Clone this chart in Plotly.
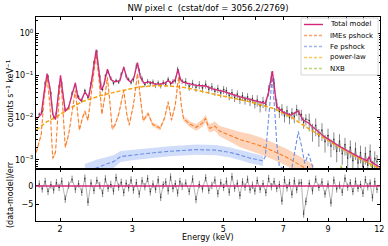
import numpy as np
import plotly.graph_objects as go
from plotly.subplots import make_subplots

# ---------------- data ----------------
tot_E = [1.75,1.80,1.83,1.86,1.89,1.92,1.95,1.98,2.006,2.03,2.06,2.10,2.14,2.18,2.21,2.25,2.30,2.35,2.40,2.45,
         2.49,2.52,2.56,2.61,2.66,2.72,2.80,2.86,2.92,2.97,3.03,3.09,3.14,3.20,3.30,3.40,3.50,3.60,3.67,3.74,
         3.82,3.88,3.93,4.00,4.30,4.53,4.70,5.00,5.50,5.81,6.10,6.33,6.45,6.59,6.68,6.75,7.00,7.30,7.62,7.80,
         8.07,8.30,8.80,9.60,10.50,11.20,11.35,11.45,11.60,12.05]
tot_V = [0.009,0.012,0.04,0.11,0.05,0.012,0.009,0.03,0.10,0.04,0.014,0.018,0.035,0.066,0.03,0.025,0.04,0.03,0.10,0.40,
         0.12,0.045,0.06,0.14,0.08,0.07,0.075,0.157,0.08,0.07,0.09,0.20,0.09,0.066,0.07,0.063,0.062,0.065,0.075,0.065,
         0.08,0.138,0.08,0.068,0.058,0.056,0.048,0.042,0.031,0.027,0.023,0.0216,0.04,0.126,0.04,0.018,0.0135,0.0115,0.0145,0.009,
         0.0075,0.0058,0.0036,0.0021,0.0013,0.00095,0.0012,0.0009,0.00084,0.00066]

ime_E = [1.75,1.80,1.83,1.86,1.89,1.92,1.95,1.98,2.006,2.03,2.06,2.10,2.14,2.18,2.21,2.23,2.27,2.30,2.34,2.40,
         2.45,2.49,2.53,2.57,2.61,2.65,2.68,2.72,2.78,2.86,2.91,2.95,3.02,3.09,3.14,3.19,3.28,3.36,3.51,3.60,
         3.67,3.74,3.82,3.89,3.95,4.00,4.15,4.30,4.45,4.53,4.60,4.64,4.77,4.90,5.20,5.50,5.81,6.20,6.63,7.20,
         7.90,8.30]
ime_V = [0.0015,0.004,0.03,0.091,0.02,0.0011,0.0015,0.02,0.091,0.02,0.002,0.004,0.015,0.044,0.012,0.0051,0.01,0.014,0.0087,0.06,
         0.32,0.08,0.012,0.03,0.09,0.02,0.0055,0.0065,0.012,0.044,0.012,0.0067,0.02,0.11,0.025,0.0085,0.0125,0.007,0.0056,0.01,
         0.0236,0.0087,0.02,0.091,0.02,0.0095,0.007,0.0059,0.0075,0.0096,0.006,0.0056,0.0063,0.0048,0.0038,0.003,0.0026,0.0021,0.0016,0.0011,
         0.00065,0.00048]
ime_err_dex = [0.05]*45 + [0.06,0.07,0.08,0.09,0.09,0.10,0.10,0.11,0.12,0.15,0.18,0.20,0.20,0.20,0.20,0.20,0.20]

fe_E = [2.30,2.45,2.55,2.70,2.81,3.00,3.30,3.70,4.30,4.80,5.20,5.50,5.81,6.10,6.25,6.33,6.42,6.50,6.58,6.66,
        6.75,6.85,7.10,7.35,7.50,7.62,7.75,7.90,8.07,8.20,8.40]
fe_V = [0.00045,0.00064,0.00075,0.00091,0.0012,0.0013,0.00144,0.0016,0.00175,0.0017,0.0015,0.0013,0.0011,0.001,0.00095,0.0012,0.006,0.03,0.091,0.02,
        0.0025,0.0007,0.0006,0.00065,0.0022,0.0047,0.0022,0.00083,0.0014,0.0008,0.0004]
fe_err_dex = [0.25,0.2,0.17,0.15,0.13,0.12,0.12,0.12,0.12,0.12,0.12,0.12,0.12,0.12,0.12]

pl_E = [1.75,1.85,1.96,2.11,2.27,2.53,2.84,3.13,3.4,3.6,3.85,4.1,4.68,5.5,5.81,6.63,7.3,8.0,8.8,9.6,10.5,11.6,12.2]
pl_V = [0.0051,0.0078,0.0105,0.0165,0.024,0.034,0.044,0.053,0.057,0.057,0.054,0.050,0.037,0.027,0.0236,0.0165,0.0105,0.0058,0.0034,0.0020,0.0012,0.00076,0.00058]

nxb_E = [1.75,3.0,5.0,7.0,7.47,7.6,8.0,9.0,9.6,9.7,9.8,10.5,11.3,11.45,11.6,12.05]
nxb_V = [4e-4,3.5e-4,3.5e-4,4e-4,5.5e-4,4e-4,4.2e-4,4.5e-4,5e-4,7.5e-4,5e-4,5e-4,5.5e-4,7.5e-4,5.5e-4,5.5e-4]

data_E = [1.78,1.81,1.84,1.87,1.90,1.93,1.96,1.99,
          2.02,2.06,2.10,2.14,2.18,2.22,2.26,2.30,2.34,2.38,2.42,2.46,2.50,2.54,2.58,2.62,2.66,2.70,2.74,2.78,2.82,2.86,2.90,2.94,2.98,
          3.02,3.07,3.12,3.17,3.22,3.27,3.32,3.37,3.42,3.47,3.52,3.57,3.62,3.67,3.72,3.77,3.82,3.87,3.92,3.97,
          4.05,4.13,4.21,4.29,4.37,4.45,4.53,4.61,4.69,4.77,4.85,4.93,5.01,5.09,5.17,5.25,5.33,5.41,5.49,5.57,5.65,5.73,5.81,5.89,5.97,
          6.05,6.15,6.25,6.35,6.45,6.55,6.65,6.75,6.85,6.95,7.05,7.15,7.25,7.35,7.45,7.55,7.65,7.75,7.85,7.95,
          8.10,8.25,8.40,8.55,8.70,8.85,9.00,9.15,9.30,9.45,9.60,9.75,9.90,10.05,10.20,10.35,10.50,10.65,10.80,10.95,11.10,11.25,11.40,11.55,11.70,11.85]
data_V = [0.012,0.014,0.066,0.095,0.038,0.010,0.013,0.055,
          0.066,0.015,0.017,0.038,0.061,0.031,0.025,0.044,0.030,0.064,0.205,0.37,0.095,0.046,0.098,0.12,0.086,0.065,0.076,0.069,0.108,0.148,0.094,0.081,0.067,
          0.079,0.17,0.13,0.082,0.061,0.072,0.064,0.07,0.058,0.067,0.057,0.068,0.062,0.081,0.063,0.072,0.074,0.14,0.083,0.073,
          0.071,0.055,0.064,0.052,0.060,0.050,0.062,0.047,0.054,0.042,0.049,0.038,0.046,0.043,0.033,0.039,0.030,0.036,0.027,0.033,0.026,0.031,0.024,0.028,0.021,
          0.026,0.019,0.024,0.020,0.045,0.095,0.065,0.021,0.014,0.016,0.011,0.0145,0.010,0.013,0.0105,0.0155,0.012,0.0118,0.0078,0.0093,
          0.0086,0.0049,0.0066,0.0037,0.0051,0.0027,0.0038,0.0021,0.0031,0.0016,0.0028,0.0014,0.0023,0.0011,0.0020,0.00095,0.0018,0.00085,0.0015,0.0007,0.0014,0.00075,0.0016,0.00065,0.0011,0.0009]
data_rel_err = [0.10]*8 + [0.10]*25 + [0.14]*20 + [0.22]*25 + [0.30]*20 + [0.45]*26
resid = [0.5,-0.8,1.2,-1.5,0.3,-1.1,0.9,-0.4,
         1.3,-3.6,0.2,1.8,-0.9,0.6,-1.7,2.1,-4.4,0.8,-1.2,1.5,0.1,-2.0,1.9,-0.6,0.4,-1.4,2.3,-0.3,1.0,-1.8,0.7,-0.5,1.6,
         -1.1,0.9,-2.2,1.4,-0.2,2.0,-1.6,0.5,-0.9,1.7,-3.1,0.3,1.1,-1.3,2.4,-0.7,0.6,-1.9,1.2,-0.1,
         0.8,-1.5,1.9,-3.7,0.4,-0.8,2.2,-1.2,0.1,1.6,-2.1,0.9,-0.4,1.3,-1.7,2.5,-0.6,0.7,-2.6,1.1,-0.3,1.8,-1.0,0.2,-1.4,
         1.5,-0.9,0.6,-1.8,2.0,-0.2,1.2,-0.7,0.4,-4.1,1.7,-0.5,0.9,-2.3,1.4,-1.0,0.8,0.9,-7.6,-4.2,
         0.7,-1.3,1.8,-0.4,1.1,-2.2,0.5,-4.6,1.6,-0.8,0.2,-1.7,2.1,-0.3,0.9,-1.5,1.3,-0.6,0.4,-2.0,1.7,-0.2,0.8,-3.2,1.2,-0.9]
resid_err = [1.0]*len(resid)

x_range = [1.748, 12.05]
x_major = [2, 3, 5, 7, 9, 12]
x_minor = [4, 6, 8, 10, 11]
y_ticks = [1e-3, 1e-2, 1e-1, 1]
y_tick_text = ["10<sup>−3</sup>", "10<sup>−2</sup>", "10<sup>−1</sup>", "10<sup>0</sup>"]

legend_names = ["Total model", "IMEs pshock", "Fe pshock", "power-law", "NXB"]

# ---------------- colours ----------------
C_TOT = "#d6287a"
C_IME = "#fb7d27"
C_FE = "#6b8fe6"
C_PL = "#f5a40a"
C_NXB = "#a6c83a"
legend_colors = [C_TOT, "#fca36a", "#9fb6f0", "#fbc85a", "#bcd77a"]
legend_dash = ["solid", "3px,2px", "3px,2px", "3px,2px", "3px,2px"]
FONT = "DejaVu Sans"

# plot box in pixels (for legend / label placement)
L, R, T, B = 36, 380, 17, 221
W, H = 388, 246
def px(x): return (x - L) / (R - L)
def py(y): return (B - y) / (B - T)

fig = make_subplots(rows=2, cols=1, shared_xaxes=True, vertical_spacing=0,
                    row_heights=[0.745, 0.255])

def band(xs, ys, dex):
    ys = np.array(ys); d = np.array(dex)
    up = ys * 10 ** d
    lo = ys / 10 ** d
    return list(xs) + list(xs)[::-1], list(up) + list(lo)[::-1]

bx, by = band(ime_E, ime_V, ime_err_dex)
fig.add_trace(go.Scatter(x=bx, y=by, fill="toself", fillcolor="rgba(250,140,70,0.38)",
                         line=dict(width=0), mode="lines", hoverinfo="skip"), 1, 1)
n = len(fe_err_dex)
bx, by = band(fe_E[:n], fe_V[:n], fe_err_dex)
fig.add_trace(go.Scatter(x=bx, y=by, fill="toself", fillcolor="rgba(110,150,240,0.32)",
                         line=dict(width=0), mode="lines", hoverinfo="skip"), 1, 1)

dv = np.array(data_V); de = dv * np.array(data_rel_err)
fig.add_trace(go.Scatter(x=data_E, y=data_V, mode="lines+markers",
                         line=dict(color="rgba(40,40,40,0.55)", width=0.7),
                         marker=dict(size=1.5, color="rgba(30,30,30,0.8)"),
                         error_y=dict(type="data", array=list(de), color="rgba(60,60,60,0.6)", thickness=1, width=0),
                         hoverinfo="skip"), 1, 1)

fig.add_trace(go.Scatter(x=nxb_E, y=nxb_V, mode="lines", name="NXB",
                         line=dict(color=C_NXB, width=1.2, dash="4px,2px")), 1, 1)
fig.add_trace(go.Scatter(x=pl_E, y=pl_V, mode="lines", name="power-law",
                         line=dict(color=C_PL, width=1.5, dash="4px,2px")), 1, 1)
fig.add_trace(go.Scatter(x=fe_E, y=fe_V, mode="lines", name="Fe pshock",
                         line=dict(color=C_FE, width=1.1, dash="4px,2px")), 1, 1)
fig.add_trace(go.Scatter(x=ime_E, y=ime_V, mode="lines", name="IMEs pshock",
                         line=dict(color=C_IME, width=1.1, dash="4px,2px")), 1, 1)
fig.add_trace(go.Scatter(x=tot_E, y=tot_V, mode="lines", name="Total model",
                         line=dict(color=C_TOT, width=1.3)), 1, 1)

# residuals
fig.add_trace(go.Scatter(x=data_E, y=resid, mode="lines+markers",
                         line=dict(color="rgba(40,40,40,0.5)", width=0.7),
                         marker=dict(size=1.5, color="rgba(30,30,30,0.8)"),
                         error_y=dict(type="data", array=resid_err, color="rgba(60,60,60,0.6)", thickness=1, width=0),
                         hoverinfo="skip"), 2, 1)
fig.add_hline(y=0, line=dict(color="rgba(214,40,122,0.75)", width=2), row=2, col=1)

ax_common = dict(showline=True, linecolor="black", linewidth=1, mirror="allticks", ticks="inside",
                 ticklen=3, tickcolor="black", showgrid=False, zeroline=False, automargin=False,
                 tickfont=dict(family=FONT, size=8, color="black"))

fig.update_xaxes(type="log", range=[np.log10(x_range[0]), np.log10(x_range[1])],
                 tickvals=x_major, ticktext=[str(v) for v in x_major],
                 minor=dict(tickvals=x_minor, ticks="inside", ticklen=3, tickcolor="black"),
                 **ax_common)
fig.update_xaxes(showticklabels=False, row=1, col=1)

minor_vals = [m * 10 ** k for k in range(-4, 1) for m in range(2, 10)]
fig.update_yaxes(type="log", range=[np.log10(6.1e-4), np.log10(2.4)], tickvals=y_ticks, ticktext=y_tick_text,
                 minor=dict(tickvals=minor_vals, ticks="inside", ticklen=1.5, tickcolor="black"),
                 row=1, col=1, **ax_common)
fig.update_yaxes(range=[-9.5, 4.6], tickvals=[-5, 0], ticktext=["−5", "0"], row=2, col=1, **ax_common)

fig.add_annotation(text="Energy (keV)", xref="paper", yref="paper", x=px(208), y=py(238),
                   showarrow=False, xanchor="center", yanchor="middle",
                   font=dict(family=FONT, size=8, color="black"))
fig.add_annotation(text="counts s<sup>−1</sup> keV<sup>−1</sup>", xref="paper", yref="paper",
                   x=px(10), y=py(93), textangle=-90, showarrow=False, xanchor="center", yanchor="middle",
                   font=dict(family=FONT, size=8, color="black"))
fig.add_annotation(text="(data-model)/err", xref="paper", yref="paper",
                   x=px(10), y=py(195), textangle=-90, showarrow=False, xanchor="center", yanchor="middle",
                   font=dict(family=FONT, size=8, color="black"))

# legend (drawn by hand to match the compact matplotlib legend)
fig.add_shape(type="rect", xref="paper", yref="paper", x0=px(301), x1=px(378), y0=py(75), y1=py(18),
              line=dict(color="#cccccc", width=0.8), fillcolor="rgba(255,255,255,0.85)", layer="above")
for i, (nm, col, ds) in enumerate(zip(legend_names, legend_colors, legend_dash)):
    yy = py(24.5 + 11 * i)
    fig.add_shape(type="line", xref="paper", yref="paper", x0=px(304), x1=px(323), y0=yy, y1=yy,
                  line=dict(color=col, width=1.4, dash=ds), layer="above")
    fig.add_annotation(text=nm, xref="paper", yref="paper", x=px(328), y=yy, showarrow=False,
                       xanchor="left", yanchor="middle", font=dict(family=FONT, size=7, color="black"))

fig.update_layout(
    width=W, height=H,
    margin=dict(l=L, r=W - R, t=T, b=H - B),
    paper_bgcolor="white", plot_bgcolor="white",
    title=dict(text="NW pixel c&nbsp;&nbsp;(cstat/dof = 3056.2/2769)", x=px(208) * (R - L) / W + L / W,
               xanchor="center", y=1 - 8.5 / H, yanchor="middle",
               font=dict(family=FONT, size=8.5, color="black")),
    showlegend=False,
)

fig.write_html("out.html", config={"displayModeBar": False, "staticPlot": True},
               post_script="document.body.style.margin='0';document.body.style.padding='0';document.body.style.overflow='hidden';")
